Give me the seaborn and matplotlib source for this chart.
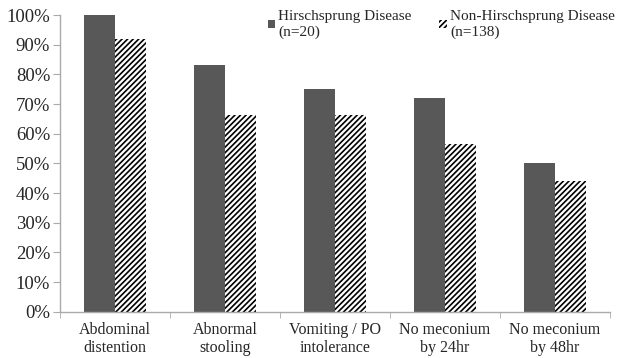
import matplotlib
matplotlib.use("Agg")
import matplotlib.pyplot as plt
from matplotlib.patches import Patch
from matplotlib.ticker import FuncFormatter, FixedLocator
import seaborn as sns
import pandas as pd
import numpy as np

# Data (percent of patients)
symptoms = ["Abdominal\ndistention", "Abnormal\nstooling", "Vomiting / PO\nintolerance",
            "No meconium\nby 24hr", "No meconium\nby 48hr"]
hirschsprung = [100, 83.3, 75, 72.2, 50]
non_hirschsprung = [92, 66.3, 66.3, 56.5, 44.2]
groups = ["Hirschsprung Disease\n(n=20)", "Non-Hirschsprung Disease\n(n=138)"]

df = pd.DataFrame({
    "symptom": symptoms * 2,
    "pct": hirschsprung + non_hirschsprung,
    "group": [groups[0]] * len(symptoms) + [groups[1]] * len(symptoms),
})

sns.set_style("white")
plt.rcParams["font.family"] = ["Liberation Serif", "DejaVu Serif"]
plt.rcParams["hatch.linewidth"] = 1.2

dark = "#585858"
fig = plt.figure(figsize=(6.18, 3.58), dpi=100)
ax = fig.add_axes([0.097, 0.129, 0.89, 0.829])

sns.barplot(data=df, x="symptom", y="pct", hue="group", order=symptoms,
            palette=[dark, "white"], width=0.56, saturation=1, ax=ax,
            legend=False, errorbar=None)

# Hatch the second group
for bar in ax.containers[1]:
    bar.set_hatch("//////")
    bar.set_edgecolor("black")
    bar.set_linewidth(0)
for bar in ax.containers[0]:
    bar.set_linewidth(0)

# Axes styling
ax.set_ylim(0, 100)
ax.set_xlim(-0.5, len(symptoms) - 0.5)
ax.set_yticks(np.arange(0, 101, 10))
ax.yaxis.set_major_formatter(FuncFormatter(lambda v, _: f"{int(v)}%"))
ax.tick_params(axis="y", labelsize=13.5, length=5, color="#aaaaaa", left=True, pad=2)
ax.tick_params(axis="x", which="major", labelsize=11.5, length=0, pad=7)
ax.xaxis.set_minor_locator(FixedLocator(np.arange(-0.5, len(symptoms), 1)))
ax.tick_params(axis="x", which="minor", length=4, color="#aaaaaa", bottom=True)
ax.set_xlabel("")
ax.set_ylabel("")
for side in ["top", "right"]:
    ax.spines[side].set_visible(False)
for side in ["left", "bottom"]:
    ax.spines[side].set_color("#aaaaaa")
    ax.spines[side].set_linewidth(1)

# Legend
handles = [Patch(facecolor=dark, edgecolor=dark, linewidth=0),
           Patch(facecolor="white", edgecolor="black", hatch="//////", linewidth=0)]
ax.legend(handles, groups, ncol=2, frameon=False, fontsize=11,
          loc="upper right", bbox_to_anchor=(1.009, 1.016),
          handlelength=0.5, handleheight=0.5, handletextpad=0.2,
          columnspacing=1.8, labelspacing=0, borderaxespad=0, borderpad=0)

fig.savefig("out.png", dpi=100)
